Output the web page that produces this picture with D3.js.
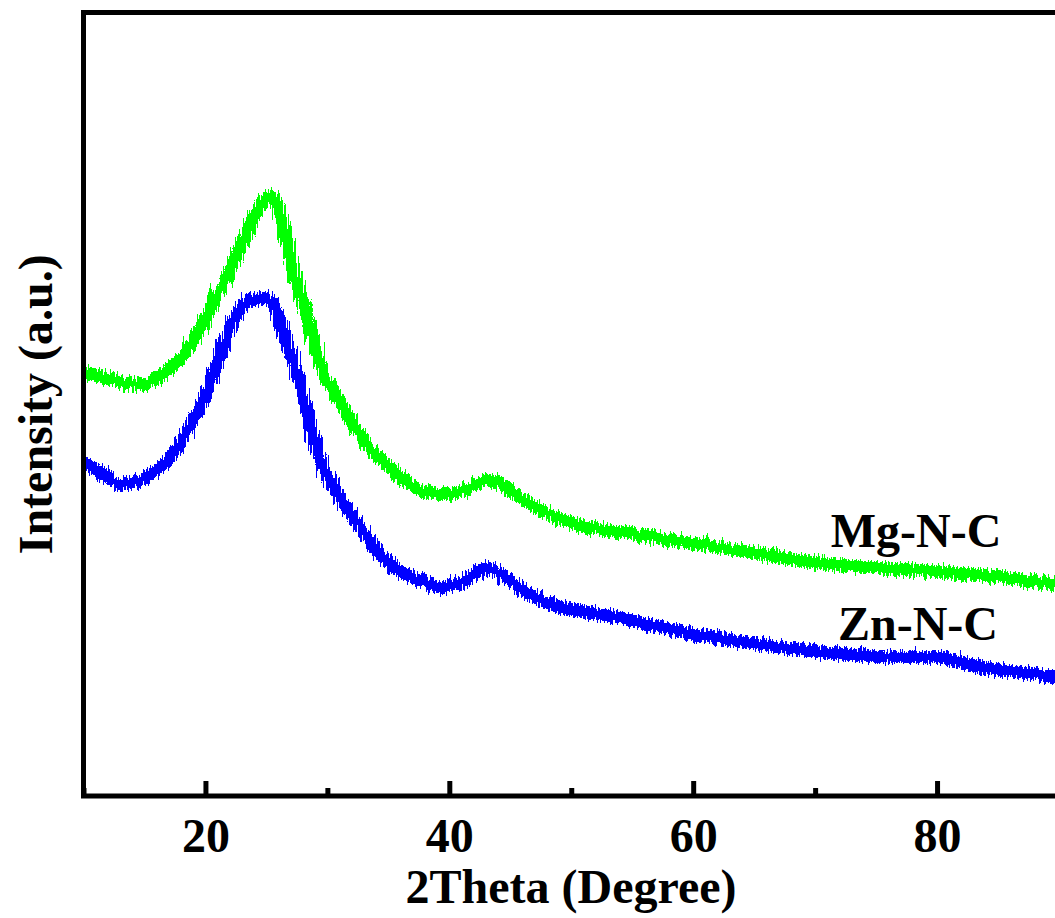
<!DOCTYPE html>
<html>
<head>
<meta charset="utf-8">
<script src="https://cdn.jsdelivr.net/npm/d3@7"></script>
<style>
    body { margin: 0; background: #fff; }
    svg { display: block; }
    text { font-family: "Times New Roman", "Liberation Serif", serif; font-weight: bold; }
</style>
</head>
<body>
<svg id="xrd"></svg>
<script>
// 2theta (deg) and intensity (a.u.)
let mgTheta = [10, 12, 14, 15, 16, 17, 18, 19, 20, 21, 22, 23, 24, 25, 25.5, 26, 26.6, 27.2, 28, 28.8, 29.3,
    30.2, 31.5, 32.5, 33.5, 35.2, 37, 39, 40.1, 41.1, 43.1, 43.9, 45.8, 48.5, 50.7, 54, 57.3, 60.6, 65.5,
    70.4, 75.3, 79.7, 85.2, 90];
let mgIntensity = [425, 418, 412, 412, 419, 427, 438, 456, 478, 501, 526, 553, 580, 598, 600, 589, 559, 526, 493, 459, 436,
    414, 385, 364, 348, 328, 310, 302, 302, 306, 316, 314, 299, 280, 271, 264, 258, 252, 242,
    233, 228, 225, 219, 212];

let znTheta = [10, 11.4, 13, 14.1, 15.5, 17.1, 18.8, 20.2, 21.2, 22.3, 23.3, 24.1, 24.7, 25.3, 26.1, 26.7, 27.4, 28.4,
    29, 30.2, 31.9, 33.8, 36.2, 37.6, 39.3, 41.1, 43.1, 43.9, 45.8, 48.5, 51.3, 54, 57.3, 60.6, 65.5, 70.4,
    77, 79.8, 82.5, 85.2, 90];
let znIntensity = [334, 324, 313, 314, 321, 339, 371, 408, 441, 476, 493, 497, 499, 495, 476, 453, 426, 383,
    351, 316, 283, 249, 223, 216, 208, 214, 228, 224, 208, 191, 184, 178, 169, 161, 152, 144,
    139, 139, 132, 126, 120];

let majorTicks = [20, 40, 60, 80];
let minorTicks = [10, 30, 50, 70, 90];

let seriesNames = ["Mg-N-C", "Zn-N-C"];
let seriesColors = ["#00ff00", "#0000ff"];

let margin = {top: 12.5, right: -4, bottom: 122, left: 83.5},
    width = 1055 - margin.left - margin.right,
    height = 918 - margin.top - margin.bottom;

let svg = d3.select("#xrd")
    .attr("width", 1055)
    .attr("height", 918);

let defs = svg.append("defs");
defs.append("clipPath")
    .attr("id", "plotClip")
    .append("rect")
    .attr("width", width)
    .attr("height", height);

// grainy detector noise look for the traces
let noise = defs.append("filter")
    .attr("id", "noisy")
    .attr("x", "-5%").attr("y", "-20%")
    .attr("width", "110%").attr("height", "140%");
noise.append("feTurbulence")
    .attr("type", "fractalNoise")
    .attr("baseFrequency", "0.6 0.02")
    .attr("numOctaves", 2)
    .attr("seed", 3)
    .attr("result", "turb");
noise.append("feDisplacementMap")
    .attr("in", "SourceGraphic")
    .attr("in2", "turb")
    .attr("scale", 14)
    .attr("xChannelSelector", "A")
    .attr("yChannelSelector", "G")
    .attr("result", "disp");
noise.append("feComponentTransfer")
    .attr("in", "disp")
    .append("feFuncA")
    .attr("type", "discrete")
    .attr("tableValues", "0 1 1 1");

let g = svg.append("g")
    .attr("transform", "translate(" + margin.left + "," + margin.top + ")");

let x = d3.scaleLinear()
    .domain([10, 90])
    .range([0, width]);
let y = d3.scaleLinear()
    .domain([0, 784])
    .range([height, 0]);

let line = d3.line()
    .x(d => x(d[0]))
    .y(d => y(d[1]))
    .curve(d3.curveMonotoneX);

let series = [
    d3.zip(mgTheta, mgIntensity),
    d3.zip(znTheta, znIntensity)
];

let traces = g.append("g").attr("clip-path", "url(#plotClip)");
series.forEach(function (pts, i) {
    traces.append("g")
        .attr("filter", "url(#noisy)")
        .append("path")
        .datum(pts)
        .attr("fill", "none")
        .attr("stroke", seriesColors[i])
        .attr("stroke-width", 12)
        .attr("d", line);
});

// frame
g.append("rect")
    .attr("width", width)
    .attr("height", height)
    .attr("fill", "none")
    .attr("stroke", "#000")
    .attr("stroke-width", 5);

let majorAxis = g.append("g")
    .attr("transform", "translate(0," + height + ")")
    .call(d3.axisBottom(x).tickValues(majorTicks).tickSize(-15).tickPadding(22).tickFormat(d3.format("d")));
majorAxis.select(".domain").remove();
majorAxis.selectAll("line").attr("stroke", "#000").attr("stroke-width", 5);
majorAxis.selectAll("text")
    .attr("fill", "#000")
    .style("font-size", "48px")
    .style("font-family", "'Times New Roman', 'Liberation Serif', serif")
    .style("font-weight", "bold");

let minorAxis = g.append("g")
    .attr("transform", "translate(0," + height + ")")
    .call(d3.axisBottom(x).tickValues(minorTicks).tickSize(-8).tickFormat(""));
minorAxis.select(".domain").remove();
minorAxis.selectAll("line").attr("stroke", "#000").attr("stroke-width", 5);

// axis titles
svg.append("text")
    .attr("x", 571)
    .attr("y", 903)
    .attr("text-anchor", "middle")
    .style("font-size", "48px")
    .text("2Theta (Degree)");

svg.append("text")
    .attr("transform", "translate(52," + (margin.top + height / 2) + ") rotate(-90)")
    .attr("text-anchor", "middle")
    .style("font-size", "48px")
    .text("Intensity (a.u.)");

// series labels
let labelPos = [[916, 547], [918, 640]];
seriesNames.forEach(function (name, i) {
    svg.append("text")
        .attr("x", labelPos[i][0])
        .attr("y", labelPos[i][1])
        .attr("text-anchor", "middle")
        .style("font-size", "48px")
        .text(name);
});
</script>
</body>
</html>
